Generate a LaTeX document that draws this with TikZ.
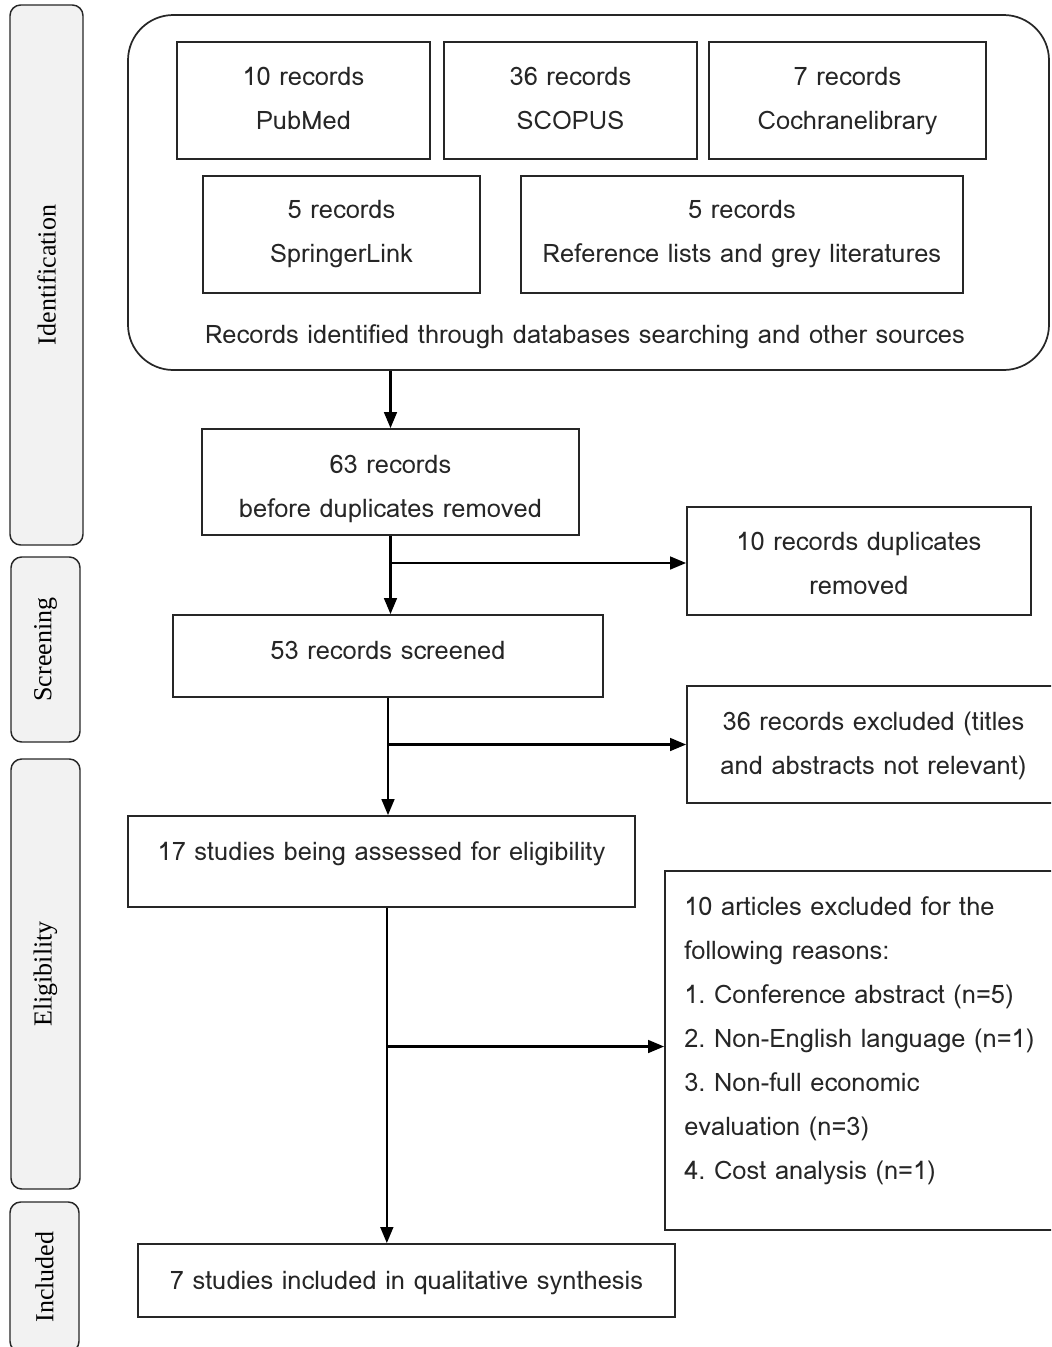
\documentclass[tikz,border=0pt]{standalone}
\usepackage{fontspec}
\setmainfont{Liberation Serif}
\newfontfamily\thaif[Script=Thai]{Loma}
\usetikzlibrary{arrows.meta}
\frenchspacing
\tikzset{
  sz/.style 2 args={minimum width=#1*0.75pt, minimum height=#2*0.75pt},
  box/.style={draw=black!85, line width=1.3pt, inner sep=0pt},
  txt/.style={font=\thaif\fontsize{19.1}{33}\selectfont, inner sep=0pt, text=black!85, align=center},
  side/.style={draw=black!85, line width=1.1pt, fill=gray!10, rounded corners=8pt, inner sep=0pt, rotate=90, font=\fontsize{19.5}{22}\selectfont},
  arr/.style={line width=1.8pt, draw=black, -{Triangle[length=12pt,width=9.5pt]}},
}
\begin{document}
\begin{tikzpicture}[x=0.75pt, y=-0.75pt]
\useasboundingbox (0,0) rectangle (1051,1347);
\clip (0,0) rectangle (1051,1347);
% stage labels
\node[side, sz={540}{73}] (sid) at (46.5,275) {Identification};
\node[side, sz={185}{69}] (sscr) at (45.5,649.5) {Screening};
\node[side, sz={430}{69}] (selig) at (45.5,974) {Eligibility};
\node[side, sz={150}{69}] (sinc) at (44.5,1277) {Included};
% identification group
\node[box, rounded corners=34pt, sz={921}{355}] (big) at (588.5,192.5) {};
\node[box, sz={253}{117}] (pub) at (303.5,100.5) {};
\node[txt] (pubt) at (303.5,98.5) {10 records\\PubMed};
\node[box, sz={253}{117}] (sco) at (570.5,100.5) {};
\node[txt] (scot) at (570.5,98.5) {36 records\\SCOPUS};
\node[box, sz={277}{117}] (coc) at (847.5,100.5) {};
\node[txt] (coct) at (847.5,101) {7 records\\Cochranelibrary};
\node[box, sz={277}{117}] (spr) at (341.5,234.5) {};
\node[txt] (sprt) at (341.5,234.5) {5 records\\SpringerLink};
\node[box, sz={442}{117}] (ref) at (742,234.5) {};
\node[txt] (reft) at (742,234.5) {5 records\\Reference lists and grey literatures};
\node[txt] (bigt) at (585,337) {Records identified through databases searching and other sources};
% flow
\node[box, sz={377}{106}] (n63) at (390.5,482) {};
\node[txt] (n63t) at (390.5,489) {63 records\\before duplicates removed};
\node[box, sz={344}{108}] (dup) at (859,561) {};
\node[txt] (dupt) at (859,563) {10 records duplicates\\removed};
\node[box, sz={430}{82}] (n53) at (388,656) {};
\node[txt] (n53t) at (388,650) {53 records screened};
\node[box, sz={373}{117}] (ex36) at (873.5,744.5) {};
\node[txt] (ex36t) at (873.5,745.5) {36 records excluded (titles\\and abstracts not relevant)};
\node[box, sz={507}{91}] (n17) at (381.5,861.5) {};
\node[txt] (n17t) at (381.5,853.5) {17 studies being assessed for eligibility};
\node[box, sz={400}{359}] (ex10) at (865,1050.5) {};
\node[txt, anchor=west, align=left] (ex10t) at (684,1041) {10 articles excluded for the\\following reasons:\\1. Conference abstract (n=5)\\2. Non-English language (n=1)\\3. Non-full economic\\evaluation (n=3)\\4. Cost analysis (n=1)};
\node[box, sz={537}{73}] (n7) at (406.5,1280.5) {};
\node[txt] (n7t) at (406.5,1283.5) {7 studies included in qualitative synthesis};
% connectors
\draw[arr] (big.south -| n63.north) -- (n63.north);
\draw[arr] (n63.south) -- (n63.south |- n53.north);
\draw[arr] ([yshift=-1.5pt]n63.south |- dup.west) -- ([yshift=-1.5pt]dup.west);
\draw[arr] (n53.south) -- (n53.south |- n17.north);
\draw[arr] (n53.south |- ex36.west) -- (ex36.west);
\draw[arr] ([xshift=4pt]n17.south) -- ([xshift=4pt]n17.south |- n7.north);
\draw[arr] ([xshift=4pt,yshift=3pt]n17.south |- ex10.west) -- ([yshift=3pt]ex10.west);
\end{tikzpicture}
\end{document}
